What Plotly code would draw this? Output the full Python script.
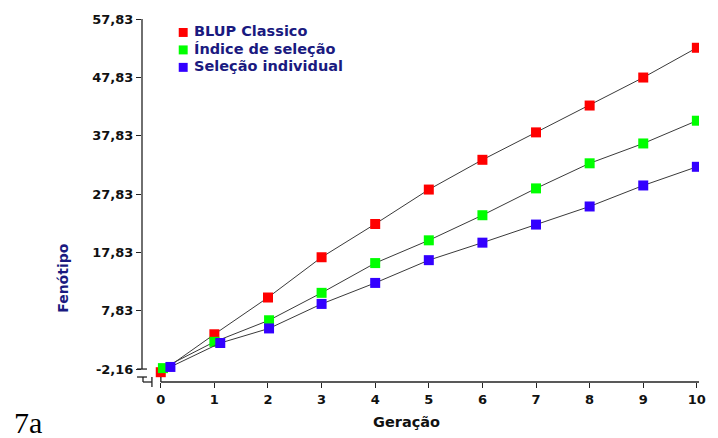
import plotly.graph_objects as go

# ---- data ----
geracao = [0, 1, 2, 3, 4, 5, 6, 7, 8, 9, 10]
geracao_indice = [0.04, 1.0, 2.02, 3.0, 4.0, 5.0, 6.0, 7.0, 8.0, 9.0, 10.0]
geracao_individual = [0.18, 1.11, 2.02, 3.0, 4.0, 5.0, 6.0, 7.0, 8.0, 9.0, 10.0]
blup_classico = [-2.7, 3.8, 10.1, 17.0, 22.7, 28.6, 33.7, 38.4, 43.0, 47.8, 52.9]
indice_selecao = [-2.0, 2.5, 6.2, 10.9, 16.0, 19.9, 24.2, 28.8, 33.1, 36.5, 40.4]
selecao_individual = [-1.8, 2.3, 4.8, 9.0, 12.6, 16.5, 19.5, 22.6, 25.7, 29.3, 32.5]

ytick_vals = [-2.16, 7.83, 17.83, 27.83, 37.83, 47.83, 57.83]
ytick_text = ["-2,16", "7,83", "17,83", "27,83", "37,83", "47,83", "57,83"]
xtick_vals = list(range(0, 11))

series = [
    ("BLUP Classico", geracao, blup_classico, "#ff0000"),
    ("Índice de seleção", geracao_indice, indice_selecao, "#00ff00"),
    ("Seleção individual", geracao_individual, selecao_individual, "#3300ff"),
]

W, H = 718, 438
L, T, R, B = 142, 18, 703, 382  # plot area in pixels


def px(x):
    return (x - L) / (R - L)


def py(y):
    return 1 - (y - T) / (B - T)


fig = go.Figure()
for name, xs, ys, col in series:
    fig.add_trace(go.Scatter(
        x=xs, y=ys, name=name, mode="lines+markers", showlegend=False,
        line=dict(color="#3a3a3a", width=1),
        marker=dict(symbol="square", size=10, color=col, line=dict(width=0)),
    ))

font_b = "DejaVu Sans"
navy = "#1a1a80"
axis_col = "#222222"

# axis decoration segments (pixel coordinates)
segs = [
    (142, 18, 142, 369),
    (137, 369, 147, 369),
    (137, 377, 147, 377),
    (143, 377, 143, 382),
    (143, 382, 152, 382),
    (152, 377, 152, 387),
    (161, 377, 161, 382),
    (161, 382, 703, 382),
]
shapes = [dict(type="line", xref="paper", yref="paper",
               x0=px(a), y0=py(b), x1=px(c), y1=py(d),
               line=dict(color=axis_col, width=1.3)) for a, b, c, d in segs]

annotations = [
    dict(text="Fenótipo", xref="paper", yref="paper", x=px(63), y=py(278),
         showarrow=False, textangle=-90, xanchor="center", yanchor="middle",
         font=dict(family=font_b, size=14, color=navy, weight="bold")),
    dict(text="Geração", xref="paper", yref="paper", x=px(408), y=py(422),
         showarrow=False, xanchor="center", yanchor="middle",
         font=dict(family=font_b, size=14.5, color="#111111", weight="bold")),
    dict(text="7a", xref="paper", yref="paper", x=px(11), y=py(423),
         showarrow=False, xanchor="left", yanchor="middle",
         font=dict(family="Liberation Serif", size=30, color="#000000")),
]

# manual legend (square swatch + label)
for i, (name, xs, ys, col) in enumerate(series):
    top = 27 + 17.5 * i
    shapes.append(dict(type="rect", xref="paper", yref="paper",
                       x0=px(179), x1=px(188), y0=py(top + 9), y1=py(top),
                       fillcolor=col, line=dict(width=0)))
    annotations.append(dict(text=name, xref="paper", yref="paper",
                            x=px(192), y=py(top + 3.5), showarrow=False,
                            xanchor="left", yanchor="middle",
                            font=dict(family=font_b, size=14.5, color=navy,
                                      weight="bold")))

fig.update_layout(
    width=W, height=H,
    margin=dict(l=L, r=W - R, t=T, b=H - B),
    paper_bgcolor="white", plot_bgcolor="white",
    showlegend=False,
    xaxis=dict(range=[-0.35, 10.04], tickvals=xtick_vals, showgrid=False,
               zeroline=False, showline=False, ticks="outside", ticklen=5,
               tickcolor=axis_col,
               tickfont=dict(family=font_b, size=13, color="#111111", weight="bold")),
    yaxis=dict(range=[-4.38, 57.83], tickvals=ytick_vals, ticktext=ytick_text,
               showgrid=False, zeroline=False, showline=False, ticks="outside",
               ticklen=5, tickcolor=axis_col,
               tickfont=dict(family=font_b, size=13, color="#111111", weight="bold")),
    shapes=shapes,
    annotations=annotations,
)

fig.write_html("out.html")
